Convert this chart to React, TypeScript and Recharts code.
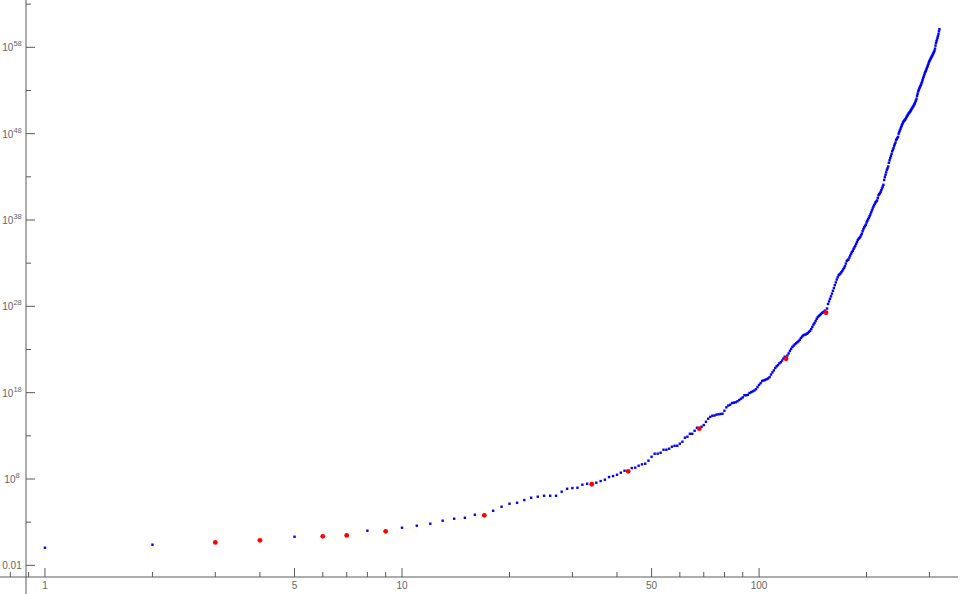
import { ReferenceLine, Scatter, ScatterChart, XAxis, YAxis } from "recharts"

// log10 of the value, for n = 1..70
const lowExponents = [
  0.04, 0.39, 0.66, 0.9, 1.31, 1.36, 1.47, 2.01, 1.94, 2.36,
  2.59, 2.82, 3.17, 3.4, 3.51, 3.86, 3.79, 4.32, 4.79, 5.14,
  5.25, 5.56, 5.83, 5.95, 6.06, 6.06, 6.06, 6.53, 6.87, 6.95,
  6.99, 7.34, 7.45, 7.39, 7.57, 7.76, 7.92, 8.23, 8.34, 8.49,
  8.73, 8.96, 8.89, 9.27, 9.31, 9.54, 9.7, 9.77, 10.12, 10.58,
  10.93, 10.93, 11.04, 11.39, 11.39, 11.51, 11.74, 11.85, 11.85, 12.09,
  12.32, 12.78, 12.9, 13.24, 13.24, 13.59, 13.94, 13.83, 14.05, 14.25,
]

// n = 71..160
const midExponents = [
  14.63, 14.98, 15.2, 15.33, 15.35, 15.45, 15.5, 15.53, 15.56, 15.91,
  16.3, 16.51, 16.6, 16.8, 16.84, 16.89, 17.0, 17.15, 17.3, 17.45,
  17.7, 17.7, 17.75, 17.96, 18.05, 18.15, 18.25, 18.4, 18.65, 18.9,
  19.1, 19.35, 19.42, 19.47, 19.56, 19.65, 19.8, 20.1, 20.35, 20.58,
  20.86, 21.05, 21.2, 21.4, 21.52, 21.72, 21.95, 22.16, 21.93, 22.3,
  22.55, 22.84, 23.07, 23.3, 23.45, 23.6, 23.72, 23.84, 23.96, 24.13,
  24.33, 24.5, 24.63, 24.7, 24.74, 24.82, 24.9, 25.05, 25.17, 25.37,
  25.62, 25.88, 26.06, 26.3, 26.55, 26.75, 26.87, 26.98, 27.1, 27.22,
  27.3, 27.38, 27.5, 27.26, 27.75, 28.27, 28.57, 28.87, 29.16, 29.47,
]

// n = 161..320
const highExponents = [
  29.8, 30.12, 30.45, 30.77, 31.1, 31.36, 31.6, 31.7, 31.8, 31.95,
  32.1, 32.28, 32.45, 32.65, 32.95, 33.25, 33.36, 33.43, 33.65, 33.88,
  34.1, 34.28, 34.43, 34.65, 34.83, 35.0, 35.22, 35.45, 35.68, 35.82,
  35.92, 36.03, 36.22, 36.42, 36.7, 36.95, 37.15, 37.3, 37.45, 37.7,
  37.9, 38.08, 38.25, 38.44, 38.65, 38.88, 39.1, 39.32, 39.54, 39.7,
  39.88, 40.05, 40.15, 40.26, 40.55, 40.86, 40.98, 41.1, 41.25, 41.45,
  41.66, 41.87, 42.08, 42.63, 42.95, 43.24, 43.52, 43.82, 43.98, 44.2,
  44.63, 44.92, 45.18, 45.39, 45.65, 45.95, 46.14, 46.33, 46.6, 46.78,
  46.97, 47.26, 47.38, 47.5, 47.63, 48.0, 48.2, 48.38, 48.58, 48.77,
  48.95, 49.1, 49.28, 49.42, 49.5, 49.58, 49.67, 49.8, 49.95, 50.06,
  50.18, 50.3, 50.4, 50.48, 50.56, 50.68, 50.8, 50.92, 51.03, 51.14,
  51.25, 51.38, 51.5, 51.68, 51.85, 52.05, 52.38, 52.62, 52.88, 53.05,
  53.23, 53.36, 53.5, 53.66, 53.83, 54.0, 54.2, 54.42, 54.6, 54.78,
  54.97, 55.12, 55.27, 55.42, 55.58, 55.74, 55.9, 56.08, 56.27, 56.4,
  56.52, 56.64, 56.76, 56.88, 56.98, 57.1, 57.23, 57.35, 57.48, 57.62,
  57.85, 58.2, 58.5, 58.7, 58.9, 59.1, 59.3, 59.55, 59.85, 60.1,
]

// the n drawn as red dots
const redN = [3, 4, 6, 7, 9, 17, 34, 43, 68, 119, 154]

const xTicks = [0.8, 0.9, 1, 2, 3, 4, 5, 6, 7, 8, 9, 10, 20, 30, 40, 50, 60, 70, 80, 90, 100, 200, 300]
const xLabels = [1, 5, 10, 50, 100]
const yTickExponents = [-2, 3, 8, 13, 18, 23, 28, 33, 38, 43, 48, 53, 58, 63]
const yLabelExponents = [-2, 8, 18, 28, 38, 48, 58]

const exponents = [...lowExponents, ...midExponents, ...highExponents]
const points = exponents.map((e, i) => ({ n: i + 1, v: Math.pow(10, e) }))
const redPoints = points.filter((p) => redN.includes(p.n))
const yTicks = yTickExponents.map((e) => Math.pow(10, e))

const xMin = 0.885
const xMax = 360.7
const yMin = Math.pow(10, -3.35)
const yMax = Math.pow(10, 63.48)

const axisColor = "#5a5a5a"
const labelColor = "#666666"
const font = "'Liberation Sans', Arial, sans-serif"

function XTick(props: any) {
  const { x, y, payload } = props
  const major = xLabels.includes(payload.value)
  return (
    <g>
      <line x1={x} x2={x} y1={y} y2={y - (major ? 9 : 5)} stroke={axisColor} />
      {major && (
        <text x={x} y={y + 12} textAnchor="middle" fontSize={10} fontFamily={font} fill={labelColor}>
          {payload.value}
        </text>
      )}
    </g>
  )
}

function YTick(props: any) {
  const { x, y, payload } = props
  const exp = Math.round(Math.log10(payload.value))
  const major = yLabelExponents.includes(exp)
  return (
    <g>
      <line x1={x} x2={x + (major ? 9 : 5)} y1={y} y2={y} stroke={axisColor} />
      {major && (
        <text x={x - 14} y={y + 4} textAnchor="middle" fontSize={10} fontFamily={font} fill={labelColor}>
          {exp === -2 ? (
            "0.01"
          ) : (
            <>
              <tspan>10</tspan>
              <tspan dy={-5} fontSize={7.5}>{exp}</tspan>
            </>
          )}
        </text>
      )}
    </g>
  )
}

const BlueDot = (p: any) => <rect x={p.cx - 1.2} y={p.cy - 1.2} width={2.4} height={2.4} fill="#0000ff" />
const RedDot = (p: any) => <circle cx={p.cx} cy={p.cy} r={2.4} fill="#ff0000" />

export default function App() {
  return (
    <div style={{ position: "absolute", left: 0, top: 0, background: "#fff" }}>
      <ScatterChart width={960} height={594} margin={{ top: 0, right: 2, bottom: 0, left: 0 }}>
        <XAxis
          type="number"
          dataKey="n"
          scale="log"
          domain={[xMin, xMax]}
          allowDataOverflow
          ticks={xTicks}
          interval={0}
          tickSize={0}
          tickMargin={0}
          tickLine={false}
          tick={(p: any) => <XTick {...p} />}
          axisLine={{ stroke: axisColor }}
          height={17}
        />
        <YAxis
          type="number"
          dataKey="v"
          scale="log"
          domain={[yMin, yMax]}
          allowDataOverflow
          ticks={yTicks}
          interval={0}
          tickSize={0}
          tickMargin={0}
          tickLine={false}
          tick={(p: any) => <YTick {...p} />}
          axisLine={{ stroke: axisColor }}
          width={26}
        />
        <ReferenceLine
          segment={[{ x: 0.748, y: yMin }, { x: xMin, y: yMin }]}
          stroke={axisColor}
          ifOverflow="visible"
        />
        <ReferenceLine
          segment={[{ x: xMin, y: yMin }, { x: xMin, y: Math.pow(10, -5.35) }]}
          stroke={axisColor}
          ifOverflow="visible"
        />
        <Scatter data={points} shape={BlueDot} isAnimationActive={false} />
        <Scatter data={redPoints} shape={RedDot} isAnimationActive={false} />
      </ScatterChart>
    </div>
  )
}
